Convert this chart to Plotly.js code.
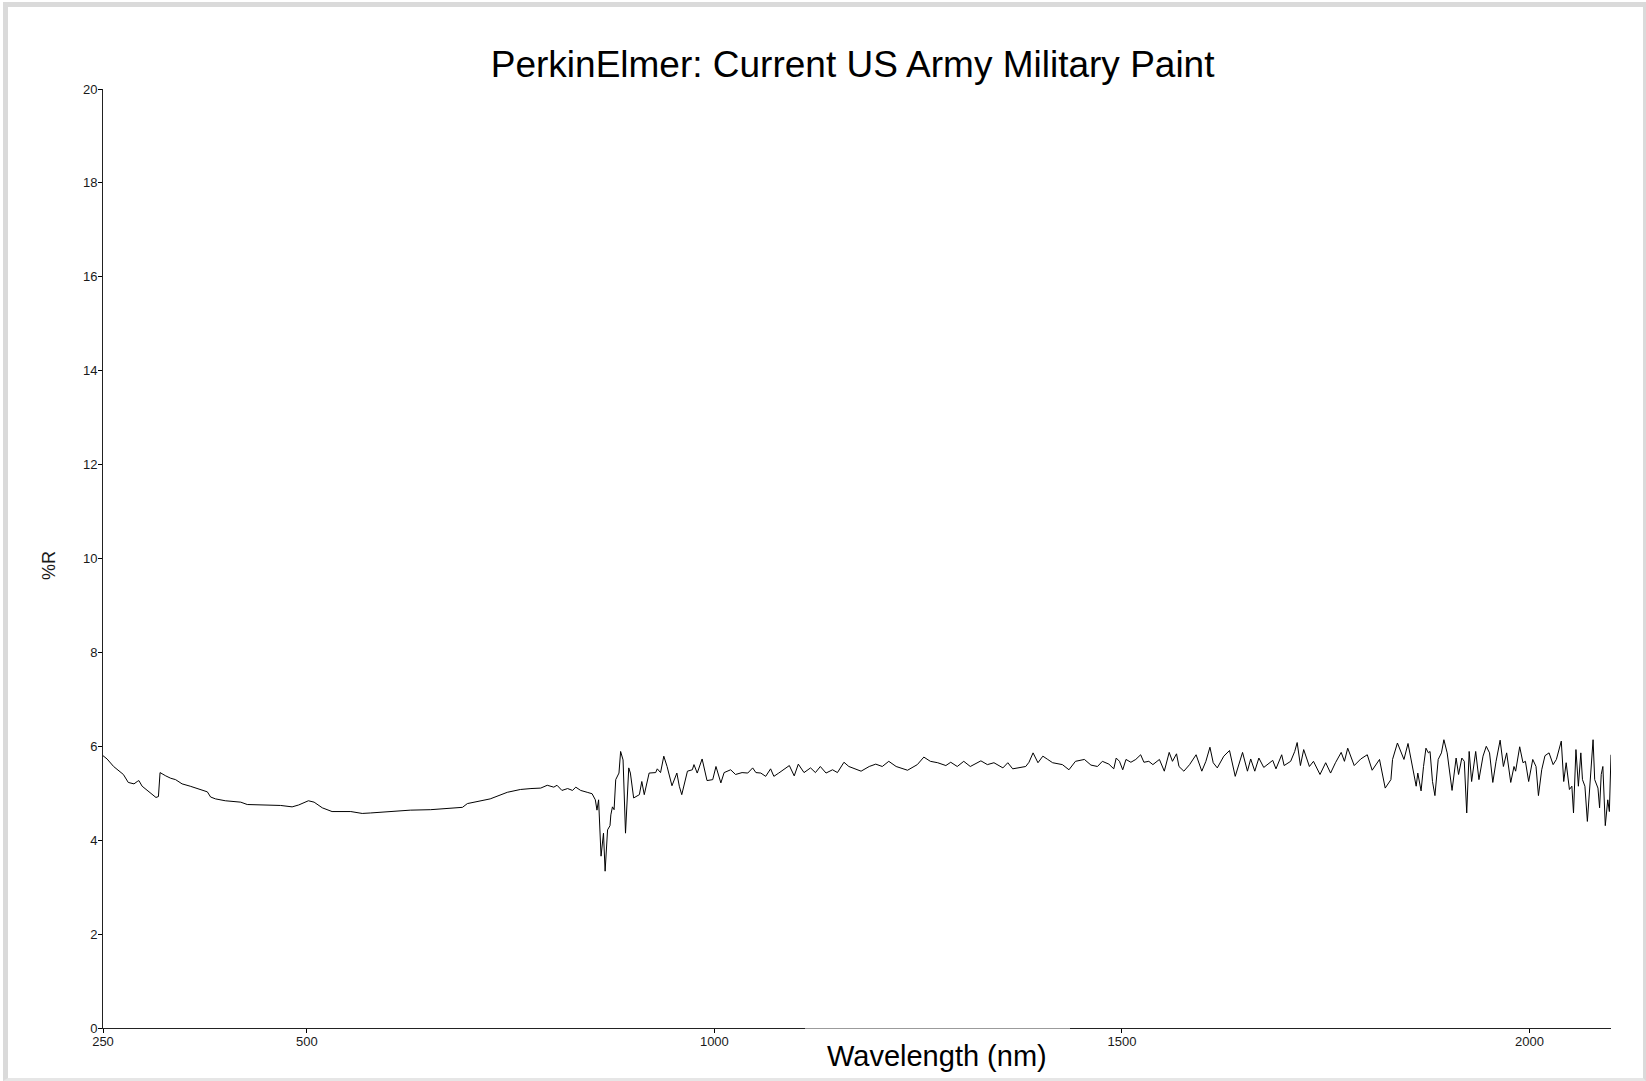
<!DOCTYPE html>
<html>
<head>
<meta charset="utf-8">
<script src="https://cdn.plot.ly/plotly-3.0.1.min.js"></script>
<style>
  html, body { margin: 0; padding: 0; background: #ffffff; }
  #wrap { position: relative; width: 1646px; height: 1081px; overflow: hidden; }
  #plot { position: absolute; left: 0; top: 0; width: 1646px; height: 1081px; }
  #frame { position: absolute; left: 3px; top: 2px; width: 1643px; height: 1079px; box-sizing: border-box;
           border-left: 5px solid #dadada; border-top: 5px solid #dadada;
           border-right: 3px solid #dadada; border-bottom: 3px solid #e6e6e6; pointer-events: none; }
</style>
</head>
<body>
<div id="wrap">
  <div id="plot"></div>
  <div id="frame"></div>
</div>
<script>
const chartTitle = "PerkinElmer: Current US Army Military Paint";
const xTitle = "Wavelength (nm)";
const yTitle = "%R";

const xTickVals = [250, 500, 1000, 1500, 2000];
const xTickText = ["250", "500", "1000", "1500", "2000"];
const yTickVals = [0, 2, 4, 6, 8, 10, 12, 14, 16, 18, 20];
const yTickText = ["0", "2", "4", "6", "8", "10", "12", "14", "16", "18", "20"];

const wavelength = [
  250, 255, 263, 275, 281, 288, 292, 294, 298, 306, 315, 318, 320, 327, 333, 339, 347, 357, 369, 378,
  382, 388, 400, 419, 427, 447, 468, 482, 490, 502, 509, 519, 531, 554, 568, 578, 599, 627, 652, 672,
  691, 697, 713, 725, 746, 762, 775, 787, 795, 803, 807, 813, 820, 826, 830, 836, 844, 850, 854, 856,
  858, 861, 864, 866, 869, 872, 873, 875, 877, 879, 883, 885, 888, 891, 895, 897, 901, 908, 911, 914,
  920, 928, 930, 934, 938, 942, 948, 954, 957, 960, 967, 973, 975, 979, 985, 991, 998, 1002, 1008, 1012,
  1020, 1026, 1034, 1041, 1047, 1051, 1057, 1063, 1069, 1073, 1079, 1092, 1098, 1103, 1110, 1118, 1124, 1130, 1137, 1145,
  1151, 1159, 1165, 1180, 1190, 1198, 1206, 1214, 1223, 1237, 1249, 1257, 1265, 1274, 1284, 1290, 1298, 1306, 1314, 1327,
  1335, 1343, 1354, 1360, 1366, 1382, 1386, 1391, 1397, 1403, 1409, 1415, 1427, 1435, 1443, 1454, 1462, 1470, 1476, 1484,
  1490, 1493, 1497, 1501, 1505, 1511, 1517, 1523, 1527, 1533, 1538, 1546, 1552, 1558, 1562, 1567, 1570, 1576, 1583, 1591,
  1598, 1603, 1608, 1612, 1617, 1625, 1632, 1639, 1648, 1654, 1658, 1663, 1668, 1674, 1685, 1689, 1696, 1699, 1707, 1712,
  1715, 1719, 1723, 1730, 1735, 1743, 1750, 1756, 1762, 1769, 1773, 1777, 1785, 1793, 1801, 1807, 1816, 1823, 1830, 1832,
  1838, 1846, 1851, 1857, 1861, 1863, 1867, 1870, 1873, 1876, 1878, 1881, 1884, 1888, 1892, 1895, 1899, 1905, 1910, 1913,
  1917, 1920, 1923, 1926, 1929, 1934, 1938, 1943, 1947, 1951, 1955, 1959, 1964, 1968, 1972, 1977, 1981, 1983, 1988, 1992,
  1995, 1999, 2004, 2008, 2011, 2015, 2019, 2024, 2029, 2033, 2036, 2039, 2042, 2045, 2049, 2052, 2054, 2057, 2060, 2063,
  2065, 2068, 2071, 2074, 2078, 2080, 2084, 2086, 2088, 2090, 2092, 2093, 2096, 2098, 2100
];

const reflectance = [
  5.80, 5.73, 5.57, 5.40, 5.23, 5.20, 5.25, 5.27, 5.15, 5.04, 4.91, 4.93, 5.44, 5.37, 5.32, 5.29, 5.20, 5.15, 5.08, 5.03,
  4.92, 4.88, 4.84, 4.81, 4.76, 4.75, 4.74, 4.71, 4.75, 4.84, 4.81, 4.69, 4.61, 4.61, 4.57, 4.58, 4.61, 4.64, 4.65, 4.67,
  4.70, 4.78, 4.84, 4.88, 5.02, 5.08, 5.10, 5.11, 5.17, 5.13, 5.17, 5.06, 5.10, 5.06, 5.13, 5.06, 5.02, 4.99, 4.86, 4.64,
  4.86, 3.66, 4.15, 3.34, 4.22, 4.31, 4.54, 4.71, 4.65, 5.29, 5.43, 5.89, 5.71, 4.15, 5.54, 5.43, 4.90, 4.97, 5.25, 4.97,
  5.43, 5.44, 5.52, 5.44, 5.79, 5.57, 5.16, 5.43, 5.15, 4.97, 5.47, 5.50, 5.61, 5.43, 5.73, 5.27, 5.29, 5.57, 5.22, 5.44,
  5.50, 5.40, 5.44, 5.43, 5.54, 5.44, 5.43, 5.36, 5.52, 5.36, 5.43, 5.59, 5.37, 5.62, 5.44, 5.54, 5.44, 5.57, 5.43, 5.50,
  5.44, 5.66, 5.57, 5.47, 5.57, 5.62, 5.57, 5.68, 5.57, 5.49, 5.61, 5.77, 5.68, 5.65, 5.59, 5.66, 5.57, 5.68, 5.57, 5.69,
  5.61, 5.65, 5.54, 5.65, 5.52, 5.57, 5.66, 5.86, 5.65, 5.79, 5.72, 5.65, 5.61, 5.50, 5.68, 5.72, 5.60, 5.57, 5.68, 5.62,
  5.52, 5.75, 5.68, 5.50, 5.72, 5.66, 5.72, 5.82, 5.66, 5.68, 5.61, 5.72, 5.47, 5.87, 5.68, 5.84, 5.57, 5.47, 5.61, 5.82,
  5.47, 5.68, 5.98, 5.65, 5.54, 5.79, 5.91, 5.36, 5.87, 5.47, 5.73, 5.47, 5.75, 5.55, 5.70, 5.52, 5.82, 5.59, 5.68, 5.89,
  6.08, 5.59, 5.93, 5.57, 5.68, 5.40, 5.65, 5.43, 5.65, 5.87, 5.68, 5.96, 5.59, 5.73, 5.82, 5.49, 5.72, 5.11, 5.29, 5.72,
  6.07, 5.72, 6.06, 5.47, 5.15, 5.43, 5.05, 5.57, 5.96, 5.86, 5.89, 5.25, 4.95, 5.72, 5.86, 6.14, 5.86, 5.06, 5.75, 5.40,
  5.75, 5.68, 4.58, 5.89, 5.25, 5.89, 5.29, 5.79, 6.00, 5.86, 5.23, 5.68, 6.13, 5.57, 5.86, 5.23, 5.57, 5.47, 5.99, 5.65,
  5.68, 5.25, 5.72, 5.57, 4.95, 5.50, 5.80, 5.86, 5.61, 5.72, 5.89, 6.11, 5.25, 5.65, 5.08, 5.15, 4.58, 5.93, 5.15, 5.86,
  5.29, 5.15, 4.40, 5.11, 6.14, 5.29, 5.11, 4.69, 5.40, 5.57, 4.69, 4.31, 4.86, 4.61, 5.82
];

const FONT = '"Liberation Sans", Arial, sans-serif';

const trace = {
  type: 'scatter',
  mode: 'lines',
  x: wavelength,
  y: reflectance,
  line: { color: '#000000', width: 1 },
  hoverinfo: 'x+y',
  showlegend: false
};

const layout = {
  width: 1646,
  height: 1081,
  paper_bgcolor: 'rgba(0,0,0,0)',
  plot_bgcolor: '#ffffff',
  margin: { l: 103, r: 35, t: 89, b: 53, pad: 0 },
  font: { family: FONT, color: '#1a1a1a' },
  title: {
    text: chartTitle,
    font: { family: FONT, size: 37, color: '#000000' },
    x: 0.518, xref: 'container', xanchor: 'center',
    y: 1 - 64 / 1081, yref: 'container', yanchor: 'middle'
  },
  xaxis: {
    range: [250, 2100],
    tickmode: 'array',
    tickvals: xTickVals,
    ticktext: xTickText,
    ticks: 'outside', ticklen: 4, tickwidth: 1, tickcolor: '#000000',
    ticklabelstandoff: -3,
    showline: true, linecolor: '#222222', linewidth: 1,
    showgrid: false, zeroline: false,
    tickfont: { family: FONT, size: 13, color: '#1a1a1a' },
    fixedrange: true
  },
  yaxis: {
    range: [0, 20],
    tickmode: 'array',
    tickvals: yTickVals,
    ticktext: yTickText,
    ticks: 'outside', ticklen: 4, tickwidth: 1, tickcolor: '#000000',
    ticklabelstandoff: -2,
    showline: true, linecolor: '#222222', linewidth: 1,
    showgrid: false, zeroline: false,
    tickfont: { family: FONT, size: 13, color: '#1a1a1a' },
    fixedrange: true
  },
  annotations: [
    {
      text: xTitle, showarrow: false,
      xref: 'paper', yref: 'paper',
      x: (937 - 103) / 1508, xanchor: 'center',
      y: (1028 - 1056) / 939, yanchor: 'middle',
      font: { family: FONT, size: 29, color: '#000000' }
    },
    {
      text: yTitle, showarrow: false, textangle: -90,
      xref: 'paper', yref: 'paper',
      x: (49 - 103) / 1508, xanchor: 'center',
      y: (1028 - 565) / 939, yanchor: 'middle',
      font: { family: FONT, size: 18, color: '#1a1a1a' }
    }
  ],
  shapes: [
    {
      type: 'rect', xref: 'paper', yref: 'paper', layer: 'above',
      x0: (805 - 103) / 1508, x1: (1070 - 103) / 1508,
      y0: -2 / 939, y1: 2 / 939,
      fillcolor: 'rgba(255,255,255,0.55)', line: { width: 0 }
    }
  ]
};

Plotly.newPlot('plot', [trace], layout, { displayModeBar: false, staticPlot: true });
</script>
</body>
</html>
